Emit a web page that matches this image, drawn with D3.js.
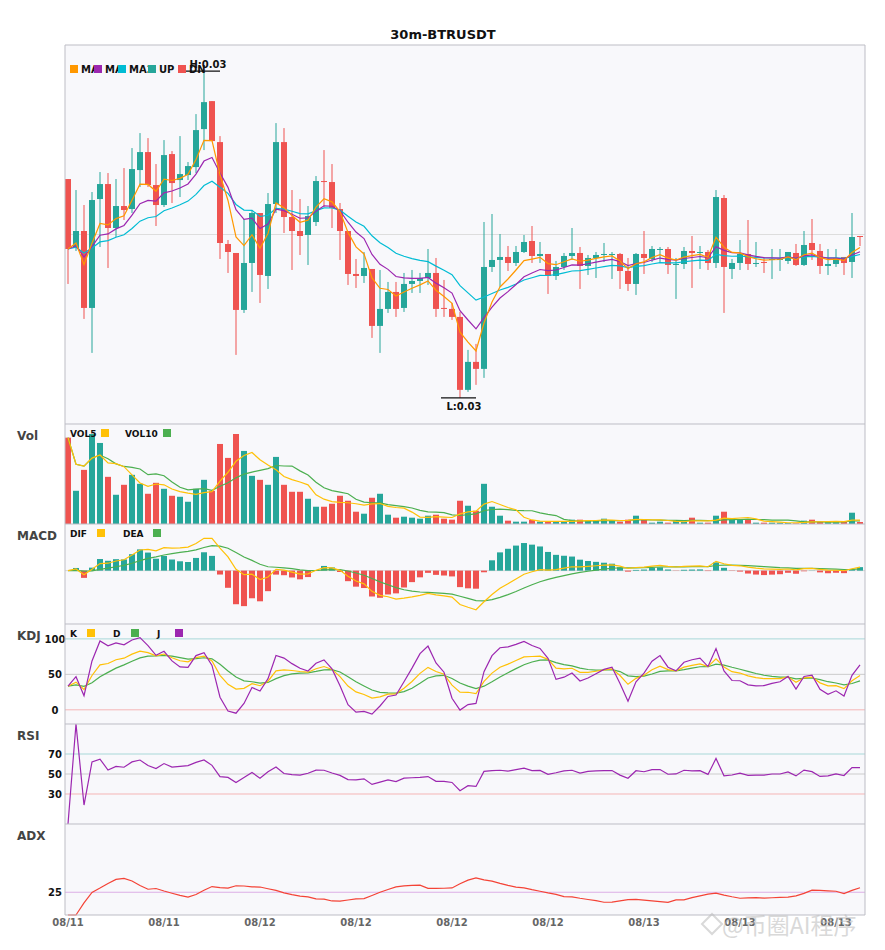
<!DOCTYPE html>
<html>
<head>
<meta charset="utf-8">
<script src="https://cdn.jsdelivr.net/npm/d3@7/dist/d3.min.js"></script>
<style>
  body { margin: 0; background: #fff; font-family: "DejaVu Sans", sans-serif; }
</style>
</head>
<body>
<div id="chart"></div>
<script>
// 30m candles
const opens = [0.03261,0.03192,0.03209,0.03132,0.03241,0.03256,0.03212,0.03234,0.03231,0.03270,
  0.03288,0.03255,0.03235,0.03286,0.03260,0.03265,0.03273,0.03311,0.03339,0.03298,
  0.03196,0.03187,0.03130,0.03177,0.03227,0.03164,0.03236,0.03298,0.03223,0.03209,
  0.03205,0.03218,0.03259,0.03258,0.03231,0.03209,0.03166,0.03164,0.03171,0.03114,
  0.03131,0.03148,0.03132,0.03156,0.03159,0.03162,0.03167,0.03132,0.03131,0.03123,
  0.03050,0.03078,0.03071,0.03173,0.03180,0.03183,0.03177,0.03188,0.03199,0.03184,
  0.03186,0.03164,0.03173,0.03184,0.03187,0.03174,0.03182,0.03185,0.03185,0.03186,
  0.03169,0.03156,0.03186,0.03181,0.03190,0.03191,0.03175,0.03176,0.03189,0.03187,
  0.03188,0.03177,0.03242,0.03171,0.03177,0.03186,0.03176,0.03178,0.03180,0.03180,
  0.03179,0.03187,0.03175,0.03197,0.03189,0.03174,0.03176,0.03183,0.03178,0.03204];
const highs = [0.03261,0.03250,0.03235,0.03248,0.03268,0.03267,0.03261,0.03272,0.03292,0.03307,
  0.03302,0.03276,0.03300,0.03289,0.03304,0.03278,0.03326,0.03369,0.03339,0.03304,
  0.03200,0.03187,0.03221,0.03230,0.03227,0.03247,0.03317,0.03312,0.03250,0.03241,
  0.03234,0.03264,0.03290,0.03276,0.03237,0.03209,0.03181,0.03188,0.03171,0.03170,
  0.03158,0.03158,0.03167,0.03170,0.03167,0.03191,0.03182,0.03160,0.03137,0.03128,
  0.03090,0.03096,0.03218,0.03226,0.03206,0.03194,0.03194,0.03205,0.03214,0.03198,
  0.03186,0.03179,0.03187,0.03212,0.03193,0.03185,0.03188,0.03197,0.03188,0.03187,
  0.03182,0.03187,0.03209,0.03194,0.03193,0.03193,0.03182,0.03193,0.03204,0.03194,
  0.03190,0.03250,0.03245,0.03181,0.03200,0.03220,0.03198,0.03183,0.03191,0.03191,
  0.03188,0.03196,0.03209,0.03221,0.03196,0.03191,0.03191,0.03183,0.03227,0.03204];
const lows = [0.03156,0.03189,0.03121,0.03087,0.03193,0.03172,0.03203,0.03220,0.03227,0.03253,
  0.03253,0.03214,0.03233,0.03237,0.03243,0.03260,0.03267,0.03290,0.03299,0.03181,
  0.03167,0.03085,0.03127,0.03148,0.03137,0.03151,0.03227,0.03207,0.03170,0.03185,
  0.03175,0.03214,0.03233,0.03212,0.03180,0.03155,0.03152,0.03157,0.03102,0.03087,
  0.03127,0.03123,0.03128,0.03147,0.03147,0.03155,0.03123,0.03123,0.03120,0.03042,
  0.03048,0.03055,0.03062,0.03168,0.03153,0.03169,0.03174,0.03187,0.03177,0.03177,
  0.03146,0.03160,0.03170,0.03180,0.03151,0.03165,0.03162,0.03178,0.03161,0.03151,
  0.03149,0.03145,0.03166,0.03178,0.03177,0.03166,0.03141,0.03171,0.03152,0.03171,
  0.03170,0.03172,0.03127,0.03161,0.03170,0.03170,0.03173,0.03167,0.03161,0.03169,
  0.03176,0.03174,0.03174,0.03180,0.03166,0.03165,0.03173,0.03165,0.03162,0.03194];
const closes = [0.03191,0.03209,0.03132,0.03240,0.03256,0.03212,0.03234,0.03230,0.03271,0.03288,
  0.03255,0.03235,0.03285,0.03257,0.03266,0.03274,0.03310,0.03338,0.03299,0.03197,
  0.03188,0.03130,0.03177,0.03227,0.03165,0.03236,0.03298,0.03223,0.03209,0.03204,
  0.03224,0.03259,0.03258,0.03232,0.03209,0.03166,0.03164,0.03172,0.03114,0.03131,
  0.03148,0.03131,0.03156,0.03159,0.03162,0.03167,0.03131,0.03131,0.03123,0.03050,
  0.03078,0.03071,0.03173,0.03180,0.03183,0.03177,0.03188,0.03198,0.03184,0.03186,
  0.03164,0.03173,0.03184,0.03187,0.03174,0.03182,0.03185,0.03186,0.03186,0.03169,
  0.03156,0.03186,0.03182,0.03191,0.03191,0.03175,0.03176,0.03189,0.03187,0.03188,
  0.03177,0.03243,0.03173,0.03177,0.03186,0.03176,0.03177,0.03177,0.03181,0.03181,
  0.03188,0.03175,0.03195,0.03190,0.03174,0.03176,0.03182,0.03177,0.03203,0.03203];
// volume in K
const volumes = [260,100,163,271,244,142,88,118,148,121,
  91,124,106,85,82,67,106,133,100,241,
  199,271,220,145,133,118,202,118,97,97,
  76,52,52,61,85,70,37,31,79,91,
  28,19,22,19,16,25,28,16,13,70,
  55,40,121,52,25,10,7,7,12,7,
  7,7,7,13,13,10,10,16,10,7,
  13,25,13,4,7,4,12,7,19,4,
  4,25,37,12,12,12,4,4,4,4,
  3,2,10,13,6,6,6,6,34,6];

const xTickLabels = ["08/11","08/11","08/12","08/12","08/12","08/12","08/13","08/13","08/13"];
const xTickEvery = 12;
const kdjTicks = [0, 50, 100];
const rsiTicks = [30, 50, 70];
const adxTicks = [25];

const UP = '#26a69a', DN = '#ef5350';

// ---- indicators ----
const sma = (arr, n) => arr.map((_, i) => d3.mean(arr.slice(Math.max(0, i - n + 1), i + 1)));
const ema = (arr, n) => {
  const a = 2 / (n + 1); let prev;
  return arr.map((v, i) => prev = (i === 0 ? v : prev + a * (v - prev)));
};

// the price averages on the chart are exponential
const ma5 = ema(closes, 5), ma10 = ema(closes, 10), ma20 = ema(closes, 20);
const vol5 = sma(volumes, 5), vol10 = sma(volumes, 10);

const e12 = ema(closes, 12), e26 = ema(closes, 26);
const dif = e12.map((v, i) => v - e26[i]);
const dea = ema(dif, 9);
const hist = dif.map((v, i) => 2 * (v - dea[i]));

let K, D;
const kdj = closes.map((c, i) => {
  const s = Math.max(0, i - 8);
  const hh = d3.max(highs.slice(s, i + 1)), ll = d3.min(lows.slice(s, i + 1));
  const rsv = hh === ll ? 50 : (c - ll) / (hh - ll) * 100;
  if (i === 0) { K = rsv; D = rsv; } else { K = (2 * K + rsv) / 3; D = (2 * D + K) / 3; }
  return { k: K, d: D, j: 3 * K - 2 * D };
});

let ag = 0, al = 0;
const rsi = closes.map((c, i) => {
  if (i === 0) return 0;
  const ch = c - closes[i - 1], g = Math.max(ch, 0), l = Math.max(-ch, 0);
  if (i <= 14) { ag = (ag * (i - 1) + g) / i; al = (al * (i - 1) + l) / i; }
  else { ag = (ag * 13 + g) / 14; al = (al * 13 + l) / 14; }
  return al === 0 ? 100 : 100 - 100 / (1 + ag / al);
});

const aA = 2 / 15; let trS, pS, mS, adxS;
const adx = closes.map((c, i) => {
  let tr = highs[i] - lows[i], pdm = 0, mdm = 0;
  if (i > 0) {
    tr = Math.max(tr, Math.abs(highs[i] - closes[i - 1]), Math.abs(lows[i] - closes[i - 1]));
    const up = highs[i] - highs[i - 1], dn = lows[i - 1] - lows[i];
    pdm = up > dn && up > 0 ? up : 0;
    mdm = dn > up && dn > 0 ? dn : 0;
  }
  if (i === 0) { trS = tr; pS = pdm; mS = mdm; }
  else { trS += aA * (tr - trS); pS += aA * (pdm - pS); mS += aA * (mdm - mS); }
  const pdi = pS / trS * 100, mdi = mS / trS * 100;
  const dx = pdi + mdi === 0 ? 0 : Math.abs(pdi - mdi) / (pdi + mdi) * 100;
  adxS = i === 0 ? dx : adxS + aA * (dx - adxS);
  return adxS;
});

// ---- layout ----
const W = 885, H = 950, L = 65, R = 865;
const panels = {
  main: [45, 424], vol: [424, 524], macd: [524, 624],
  kdj: [624, 724], rsi: [724, 824], adx: [824, 915]
};

const svg = d3.select('#chart').append('svg').attr('width', W).attr('height', H)
  .style('font-family', '"DejaVu Sans", sans-serif');

svg.append('text').attr('x', 443).attr('y', 39).attr('text-anchor', 'middle')
  .style('font-weight', 'bold').style('font-size', '13px').attr('fill', '#111')
  .text('30m-BTRUSDT');

Object.values(panels).forEach(([t, b]) => {
  svg.append('rect').attr('x', L).attr('y', t).attr('width', R - L).attr('height', b - t)
    .attr('fill', '#f8f8fb');
});

const x = d3.scaleBand().domain(d3.range(closes.length)).range([64, 864])
  .paddingInner(0.25).paddingOuter(0.125);
const cx = i => x(i) + x.bandwidth() / 2;
const isUp = i => closes[i] >= opens[i];

function hline(y, color) {
  svg.append('line').attr('x1', L).attr('x2', R).attr('y1', y).attr('y2', y)
    .attr('stroke', color).attr('stroke-width', 1);
}
function drawLine(data, y, color, width) {
  svg.append('path').datum(data)
    .attr('d', d3.line().x((d, i) => cx(i)).y(d => y(d)))
    .attr('fill', 'none').attr('stroke', color).attr('stroke-width', width || 1.2);
}

// ---- main price panel ----
const pMax = d3.max(highs), pMin = d3.min(lows), pad = (pMax - pMin) * 0.08;
const yP = d3.scaleLinear().domain([pMin - pad, pMax + pad]).range([panels.main[1], panels.main[0]]);
hline(yP((pMin + pMax) / 2), '#dddddd');

const candles = svg.append('g');
candles.selectAll('line').data(closes).enter().append('line')
  .attr('x1', (d, i) => cx(i)).attr('x2', (d, i) => cx(i))
  .attr('y1', (d, i) => yP(highs[i])).attr('y2', (d, i) => yP(lows[i]))
  .attr('stroke', (d, i) => isUp(i) ? UP : DN).attr('stroke-width', 1);
candles.selectAll('rect').data(closes).enter().append('rect')
  .attr('x', (d, i) => x(i)).attr('width', x.bandwidth())
  .attr('y', (d, i) => yP(Math.max(opens[i], closes[i])))
  .attr('height', (d, i) => Math.max(1, Math.abs(yP(opens[i]) - yP(closes[i]))))
  .attr('fill', (d, i) => isUp(i) ? UP : DN);

drawLine(ma20, yP, '#00bcd4');
drawLine(ma10, yP, '#9c27b0');
drawLine(ma5, yP, '#ff9800');

// high / low markers
const hi = d3.maxIndex(highs), lo = d3.minIndex(lows);
[[hi, highs[hi], 'H:', -3], [lo, lows[lo], 'L:', 12]].forEach(([i, v, p, dy]) => {
  svg.append('line').attr('x1', cx(i) - 19).attr('x2', cx(i) + 16)
    .attr('y1', yP(v)).attr('y2', yP(v)).attr('stroke', '#111').attr('stroke-width', 1.2);
  svg.append('text').attr('x', cx(i) + 4).attr('y', yP(v) + dy).attr('text-anchor', 'middle')
    .style('font-size', '10px').style('font-weight', 'bold').attr('fill', '#111')
    .text(p + v.toFixed(2));
});

// main legend: every label is cut off where the next swatch begins
const mainLegend = [
  { label: 'MA5', color: '#ff9800', x: 70 }, { label: 'MA10', color: '#9c27b0', x: 94 },
  { label: 'MA20', color: '#00bcd4', x: 118 }, { label: 'UP', color: UP, x: 148 },
  { label: 'DN', color: DN, x: 178 }
];
const defs = svg.append('defs');
mainLegend.forEach((d, k) => {
  const next = k < mainLegend.length - 1 ? mainLegend[k + 1].x : d.x + 40;
  defs.append('clipPath').attr('id', 'lg' + k).append('rect')
    .attr('x', d.x + 10).attr('y', 60).attr('width', next - d.x - 10).attr('height', 16);
  svg.append('rect').attr('x', d.x).attr('y', 65).attr('width', 8).attr('height', 8).attr('fill', d.color);
  svg.append('text').attr('x', d.x + 11).attr('y', 73).attr('clip-path', `url(#lg${k})`)
    .style('font-size', '10px').style('font-weight', 'bold').attr('fill', '#111').text(d.label);
});

// ---- volume ----
const yV = d3.scaleLinear().domain([0, d3.max(volumes) / 0.9]).range([panels.vol[1], panels.vol[0]]);
svg.append('g').selectAll('rect').data(volumes).enter().append('rect')
  .attr('x', (d, i) => x(i)).attr('width', x.bandwidth())
  .attr('y', d => yV(d)).attr('height', d => yV(0) - yV(d))
  .attr('fill', (d, i) => isUp(i) ? UP : DN);
drawLine(vol10, yV, '#4caf50');
drawLine(vol5, yV, '#ffc107');

// ---- MACD ----
const mAll = dif.concat(dea, hist);
const mLo = d3.min(mAll), mHi = d3.max(mAll), mPad = (mHi - mLo) * 0.2;
const yM = d3.scaleLinear().domain([mLo - mPad, mHi + mPad]).range([panels.macd[1], panels.macd[0]]);
hline(yM(0), '#d6d6d6');
svg.append('g').selectAll('rect').data(hist).enter().append('rect')
  .attr('x', (d, i) => x(i)).attr('width', x.bandwidth())
  .attr('y', d => Math.min(yM(d), yM(0))).attr('height', d => Math.abs(yM(d) - yM(0)))
  .attr('fill', d => d >= 0 ? UP : DN);
drawLine(dea, yM, '#4caf50');
drawLine(dif, yM, '#ffc107');

// ---- KDJ ----
const yK = d3.scaleLinear().domain([-20, 121]).range([panels.kdj[1], panels.kdj[0]]);
const kdjGrid = { 0: '#f5b5b5', 50: '#cccccc', 100: '#a8d8d8' };
kdjTicks.forEach(t => hline(yK(t), kdjGrid[t]));
drawLine(kdj.map(d => d.d), yK, '#4caf50');
drawLine(kdj.map(d => d.k), yK, '#ffc107');
drawLine(kdj.map(d => d.j), yK, '#9c27b0');

// ---- RSI ----
const yR = d3.scaleLinear().domain([0, 100]).range([panels.rsi[1], panels.rsi[0]]);
const rsiGrid = { 30: '#f5b5b5', 50: '#cccccc', 70: '#a8d8d8' };
rsiTicks.forEach(t => hline(yR(t), rsiGrid[t]));
drawLine(rsi, yR, '#9c27b0');

// ---- ADX ----
const yA = d3.scaleLinear().domain([0, 100]).range([panels.adx[1], panels.adx[0]]);
adxTicks.forEach(t => hline(yA(t), '#dcaee6'));
drawLine(adx, yA, '#f44336');

// y tick labels
[[yK, kdjTicks], [yR, rsiTicks], [yA, adxTicks]].forEach(([s, ticks]) => {
  const g = svg.append('g').attr('transform', `translate(${L},0)`)
    .call(d3.axisLeft(s).tickValues(ticks).tickSize(0).tickFormat(d3.format('d')));
  g.select('.domain').remove();
  g.selectAll('text').attr('x', -10).attr('text-anchor', 'middle')
    .style('font-size', '10px').style('font-weight', 'bold').attr('fill', '#111')
    .style('font-family', '"DejaVu Sans", sans-serif');
});

// sub-panel legends
const subLegends = [
  { y: 424, items: [['VOL5', '#ffc107', 70, 101], ['VOL10', '#4caf50', 125, 163]] },
  { y: 524, items: [['DIF', '#ffc107', 70, 97], ['DEA', '#4caf50', 123, 153]] },
  { y: 624, items: [['K', '#ffc107', 70, 87], ['D', '#4caf50', 113, 131], ['J', '#9c27b0', 157, 175]] }
];
subLegends.forEach(p => p.items.forEach(([label, color, tx, sx]) => {
  svg.append('text').attr('x', tx).attr('y', p.y + 13).style('font-size', '9px')
    .style('font-weight', 'bold').attr('fill', '#111').text(label);
  svg.append('rect').attr('x', sx).attr('y', p.y + 5).attr('width', 8).attr('height', 8).attr('fill', color);
}));

// panel names
[['Vol', 424], ['MACD', 524], ['KDJ', 624], ['RSI', 724], ['ADX', 824]].forEach(([n, t]) => {
  svg.append('text').attr('x', 17).attr('y', t + 16).style('font-size', '12px')
    .style('font-weight', 'bold').attr('fill', '#444').text(n);
});

// x axis
const xAxis = svg.append('g').attr('transform', `translate(0,${panels.adx[1]})`)
  .call(d3.axisBottom(x)
    .tickValues(d3.range(0, closes.length, xTickEvery))
    .tickSize(0).tickPadding(4)
    .tickFormat(i => xTickLabels[i / xTickEvery]));
xAxis.select('.domain').remove();
xAxis.selectAll('text').style('font-size', '10px').style('font-weight', 'bold')
  .attr('fill', '#666').style('font-family', '"DejaVu Sans", sans-serif');

// panel borders
Object.values(panels).forEach(([t, b]) => { hline(t, '#bdbdc5'); });
hline(panels.adx[1], '#bdbdc5');
[L, R].forEach(xx => svg.append('line').attr('x1', xx).attr('x2', xx)
  .attr('y1', panels.main[0]).attr('y2', panels.adx[1]).attr('stroke', '#bdbdc5'));

// watermark
const wm = svg.append('g').attr('opacity', 0.55);
wm.append('path').attr('d', 'M712,914 L722,924 L712,934 L702,924 Z')
  .attr('fill', 'none').attr('stroke', '#bbb').attr('stroke-width', 2);
wm.append('text').attr('x', 722).attr('y', 934)
  .style('font-family', '"Noto Sans CJK SC", sans-serif').style('font-size', '23px')
  .attr('fill', '#bbbbbb').text('@币圈AI程序');
</script>
</body>
</html>
